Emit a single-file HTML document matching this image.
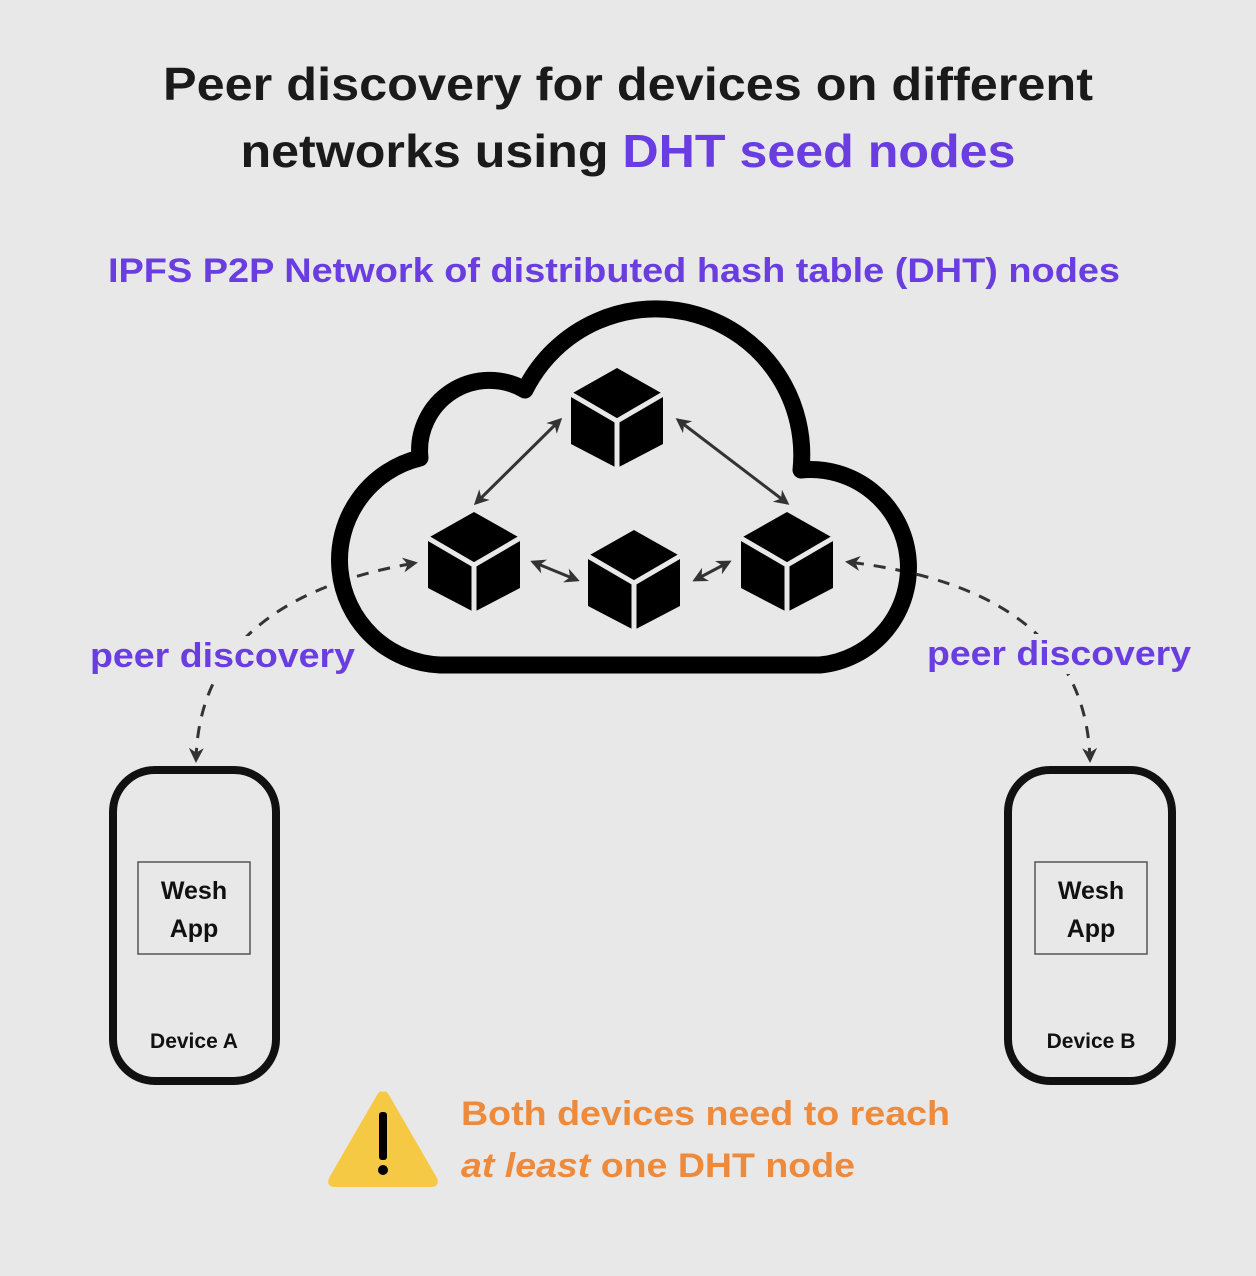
<!DOCTYPE html>
<html><head><style>html,body{margin:0;padding:0;background:#e8e8e8;}svg{display:block}</style></head>
<body>
<svg width="1256" height="1276" viewBox="0 0 1256 1276" xmlns="http://www.w3.org/2000/svg" font-family="Liberation Sans, sans-serif" font-weight="bold">
<defs>
<marker id="ah" viewBox="0 0 10 10" refX="8" refY="5" markerWidth="5" markerHeight="5" orient="auto-start-reverse"><path d="M0,0 L10,5 L0,10 L3,5 Z" fill="#333"/></marker>
<g id="cube"><polygon points="0,-50 46,-24 46,26 0,50 -46,26 -46,-24" fill="#000"/><path d="M0,3 L-48,-25 M0,3 L48,-25 M0,3 L0,52" stroke="#e8e8e8" stroke-width="5"/></g>
</defs>
<rect width="1256" height="1276" fill="#e8e8e8"/>
<text x="628" y="100" text-anchor="middle" font-size="46" fill="#1a1a1a" textLength="930" lengthAdjust="spacingAndGlyphs">Peer discovery for devices on different</text>
<text x="628" y="167" text-anchor="middle" font-size="46" fill="#1a1a1a" textLength="775" lengthAdjust="spacingAndGlyphs">networks using <tspan fill="#6a3de0">DHT seed nodes</tspan></text>
<text x="614" y="282" text-anchor="middle" font-size="34" fill="#6a3de0" textLength="1012" lengthAdjust="spacingAndGlyphs">IPFS P2P Network of distributed hash table (DHT) nodes</text>

<path d="M196 760 Q200 600 415 563" fill="none" stroke="#333" stroke-width="3" stroke-dasharray="12 10" marker-start="url(#ah)" marker-end="url(#ah)"/>
<path d="M1090 760 Q1085 590 848 562" fill="none" stroke="#333" stroke-width="3" stroke-dasharray="12 10" marker-start="url(#ah)" marker-end="url(#ah)"/>
<rect x="88" y="636" width="270" height="40" fill="#e8e8e8"/>
<rect x="925" y="634" width="270" height="40" fill="#e8e8e8"/>

<path d="M440 665 A105 105 0 0 1 420 458 A70 70 0 0 1 525 390 A146 146 0 0 1 801 470 A96 96 0 1 1 820 665 Z" fill="none" stroke="#000" stroke-width="17" stroke-linejoin="round"/>

<use href="#cube" x="617" y="418"/>
<use href="#cube" x="474" y="562"/>
<use href="#cube" x="634" y="580"/>
<use href="#cube" x="787" y="562"/>
<g stroke="#333" stroke-width="3" marker-start="url(#ah)" marker-end="url(#ah)">
<line x1="560" y1="420" x2="476" y2="503"/>
<line x1="678" y1="420" x2="787" y2="503"/>
<line x1="533" y1="562" x2="577" y2="580"/>
<line x1="695" y1="580" x2="729" y2="562"/>
</g>

<text x="90" y="667" font-size="34" fill="#6a3de0" textLength="265" lengthAdjust="spacingAndGlyphs">peer discovery</text>
<text x="927" y="665" font-size="34" fill="#6a3de0" textLength="264" lengthAdjust="spacingAndGlyphs">peer discovery</text>

<rect x="113" y="770" width="163" height="311" rx="42" fill="none" stroke="#111" stroke-width="8"/>
<rect x="138" y="862" width="112" height="92" fill="none" stroke="#555" stroke-width="1.5"/>
<text x="194" y="899" text-anchor="middle" font-size="25" fill="#111">Wesh</text>
<text x="194" y="937" text-anchor="middle" font-size="25" fill="#111">App</text>
<text x="194" y="1048" text-anchor="middle" font-size="21" fill="#111">Device A</text>

<rect x="1008" y="770" width="164" height="311" rx="42" fill="none" stroke="#111" stroke-width="8"/>
<rect x="1035" y="862" width="112" height="92" fill="none" stroke="#555" stroke-width="1.5"/>
<text x="1091" y="899" text-anchor="middle" font-size="25" fill="#111">Wesh</text>
<text x="1091" y="937" text-anchor="middle" font-size="25" fill="#111">App</text>
<text x="1091" y="1048" text-anchor="middle" font-size="21" fill="#111">Device B</text>

<path d="M383 1092 Q386 1090 389 1095 L437 1178 Q440 1186 432 1187 L334 1187 Q326 1186 329 1178 L377 1095 Q380 1090 383 1092 Z" fill="#f6c944"/>
<rect x="379" y="1112" width="8" height="48" rx="3" fill="#000"/>
<circle cx="383" cy="1170" r="5" fill="#000"/>

<text x="461" y="1125" font-size="34" fill="#ee8a3b" textLength="489" lengthAdjust="spacingAndGlyphs">Both devices need to reach</text>
<text x="461" y="1177" font-size="34" fill="#ee8a3b" textLength="394" lengthAdjust="spacingAndGlyphs"><tspan font-style="italic">at least</tspan> one DHT node</text>
</svg>
</body></html>
